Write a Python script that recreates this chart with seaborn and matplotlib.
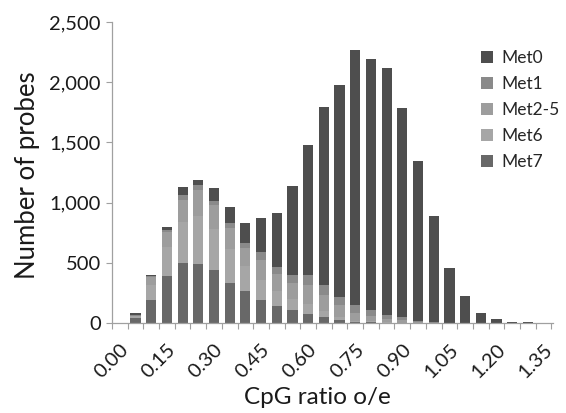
import matplotlib
matplotlib.use("Agg")
import matplotlib.pyplot as plt
from matplotlib.ticker import FuncFormatter, FixedLocator
import seaborn as sns
import numpy as np

categories = ["0.00", "0.05", "0.10", "0.15", "0.20", "0.25", "0.30", "0.35", "0.40", "0.45",
              "0.50", "0.55", "0.60", "0.65", "0.70", "0.75", "0.80", "0.85", "0.90", "0.95",
              "1.00", "1.05", "1.10", "1.15", "1.20", "1.25", "1.30", "1.35"]

met7 = [0, 44, 194, 388, 498, 487, 437, 332, 266, 194, 145, 105, 78, 50, 22, 8, 6, 3, 2, 1,
        0, 0, 0, 0, 0, 0, 0, 0]
met6 = [0, 10, 120, 240, 340, 400, 340, 280, 209, 167, 120, 91, 80, 50, 24, 12, 8, 4, 2, 1,
        0, 0, 0, 0, 0, 0, 0, 0]
met2_5 = [0, 6, 64, 128, 182, 220, 200, 180, 150, 160, 140, 140, 160, 133, 100, 66, 46, 28, 18, 6,
          3, 1, 1, 0, 0, 0, 0, 0]
met1 = [0, 4, 10, 20, 40, 36, 36, 38, 40, 69, 60, 60, 78, 80, 70, 60, 46, 32, 24, 9,
        5, 2, 1, 0, 0, 0, 0, 0]
met0 = [0, 20, 13, 22, 69, 42, 111, 133, 166, 282, 450, 744, 1082, 1484, 1761, 2121, 2084, 2053,
        1737, 1328, 883, 457, 225, 82, 32, 8, 7, 1]

series_names = ["Met7", "Met6", "Met2-5", "Met1", "Met0"]
series_values = [met7, met6, met2_5, met1, met0]
series_colors = ["#686868", "#a6a6a6", "#9d9d9d", "#8a8a8a", "#4e4e4e"]
tick_labels = categories[::3]
y_ticks = [0, 500, 1000, 1500, 2000, 2500]

sns.set_theme(style="white")
plt.rcParams["font.family"] = ["Lato", "DejaVu Sans"]

fig = plt.figure(figsize=(5.66, 4.13), dpi=100)
ax = fig.add_axes([112 / 566, 1 - 323 / 413, (553 - 112) / 566, (323 - 22) / 413])

bottom = np.zeros(len(categories))
for name, vals, col in zip(series_names, series_values, series_colors):
    sns.barplot(x=categories, y=vals, color=col, bottom=bottom, width=0.65,
                saturation=1, ax=ax, label=name, linewidth=0, antialiased=False)
    bottom = bottom + np.array(vals)

ax.set_ylim(0, 2500)
ax.set_xlim(-0.5, 27.6)
ax.set_yticks(y_ticks)
ax.yaxis.set_major_formatter(FuncFormatter(lambda v, p: f"{v:,.0f}"))

pos = [categories.index(t) for t in tick_labels]
ax.xaxis.set_major_locator(FixedLocator(pos))
ax.set_xticklabels(tick_labels, rotation=45, ha="right", rotation_mode="anchor")
ax.xaxis.set_minor_locator(FixedLocator(np.arange(-0.5, 28, 1.0)))

ax.tick_params(axis="x", which="major", length=0, pad=13, labelsize=14.5, colors="#1a1a1a")
ax.tick_params(axis="x", which="minor", length=4, width=0.8, color="#a0a0a0", direction="out", bottom=True)
ax.tick_params(axis="y", which="major", length=4, width=0.8, color="#a0a0a0", direction="out",
               left=True, labelsize=14.5, labelcolor="#1a1a1a", pad=4)

for s in ["top", "right"]:
    ax.spines[s].set_visible(False)
for s in ["left", "bottom"]:
    ax.spines[s].set_color("#a0a0a0")
    ax.spines[s].set_linewidth(0.9)

ax.set_xlabel("CpG ratio o/e", fontsize=17.5, color="#1a1a1a")
ax.xaxis.set_label_coords((317 - 112) / (553 - 112), -(398 - 323) / (323 - 22), transform=ax.transAxes)
ax.xaxis.label.set_va("center")
ax.set_ylabel("Number of probes", fontsize=18.5, color="#1a1a1a")
ax.yaxis.set_label_coords(-(112 - 28) / (553 - 112), (323 - 175) / (323 - 22), transform=ax.transAxes)
ax.yaxis.label.set_va("center")

h, l = ax.get_legend_handles_labels()
leg = ax.legend(h[::-1], l[::-1], loc="upper left", bbox_to_anchor=(481 / 566, 1 - 50 / 413),
                bbox_transform=fig.transFigure, frameon=False, fontsize=12.5,
                handlelength=0.7, handleheight=0.7, handletextpad=0.5, labelspacing=0.58,
                borderaxespad=0, borderpad=0)

fig.savefig("out.png", dpi=100)
